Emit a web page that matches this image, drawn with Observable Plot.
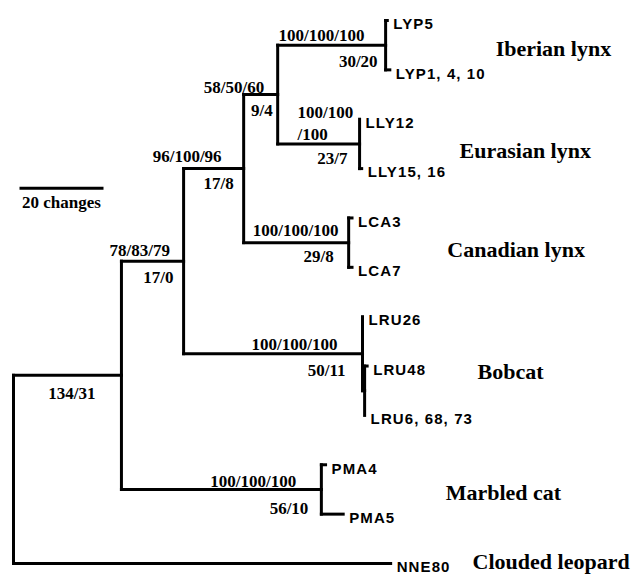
<!DOCTYPE html>
<html><head><meta charset="utf-8">
<script src="https://cdn.jsdelivr.net/npm/d3@7"></script>
<script src="https://cdn.jsdelivr.net/npm/@observablehq/plot@0.6"></script>
<style>
body{margin:0;background:#fff}
#chart svg{display:block;background:#fff}
.tips text{letter-spacing:1.1px}
</style></head><body><div id="chart"></div>
<script>
// ---- tree data (branch lengths in changes) ----
const nodeIds  = ["root","A","NNE80","B","M","C","Bob","D","Can","Ib","Eu","LYP5","LYP1","LLY12","LLY15","LCA3","LCA7","LRU26","BobSub","LRU48","LRU6","PMA4","PMA5"];
const parents  = [null,"root","root","A","A","B","B","C","C","D","D","Ib","Ib","Eu","Eu","Can","Can","Bob","Bob","BobSub","BobSub","M","M"];
const lengths  = [0,25.7,89.8,14.8,47.6,14.3,42.6,8.1,25.0,25.7,19.5,0.4,1.0,0,0.5,0.8,0.8,0,0.5,0.6,0,1.0,5.2];
// tip labels
const tipIds    = ["LYP5","LYP1","LLY12","LLY15","LCA3","LCA7","LRU26","LRU48","LRU6","PMA4","PMA5","NNE80"];
const tipLabels = ["LYP5","LYP1, 4, 10","LLY12","LLY15, 16","LCA3","LCA7","LRU26","LRU48","LRU6, 68, 73","PMA4","PMA5","NNE80"];
// support values (above branch) and steps (below branch)
const supportNodes = ["Ib","Eu","Can","Bob","M","D","C","B","A"];
const supportAbove = ["100/100/100","100/100\n/100","100/100/100","100/100/100","100/100/100","58/50/60","96/100/96","78/83/79",""];
const stepsBelow   = ["30/20","23/7","29/8","50/11","56/10","9/4","17/8","17/0","134/31"];
// clades
const cladeNodes  = ["Ib","Eu","Can","Bob","M","NNE80"];
const cladeNames  = ["Iberian lynx","Eurasian lynx","Canadian lynx","Bobcat","Marbled cat","Clouded leopard"];
// scale bar
const scaleBarLength = 20;
const scaleBarLabel = "20 changes";

// ---- layout (placement only) ----
const aboveDx = [-107,-62,-96,-111,-111,-74,-91,-74,0];
const aboveDy = [-11,-22,-14,-11,-10,-9,-14,-12.5,0];
const belowDx = [-8,-12,-15,-17,-13,-5,-10,-10,-26];
const belowDy = [16,15,14,17,19,16,15,16.5,18];
const cladeX  = [114.8,106.2,103.3,110.5,102.9,109.3];
const cladeDy = [4,7,7,18,3,-2];
const scaleBarPos = {x: 1.43, y: 3.4};

// build tree
const nodes = new Map(nodeIds.map((id,i)=>[id,{id,parent:parents[i],len:lengths[i],children:[]}]));
for (const n of nodes.values()) if (n.parent) nodes.get(n.parent).children.push(n);
let leafIndex = 0;
(function lay(n, x0){
  n.x = x0 + n.len;
  if (n.children.length===0){ n.y = leafIndex++; }
  else { n.children.forEach(c=>lay(c,n.x)); n.y = (n.children[0].y + n.children[n.children.length-1].y)/2; }
})(nodes.get("root"),0);

const segs = [];
for (const n of nodes.values()){
  if (n.parent){ const p = nodes.get(n.parent); if (n.len>0) segs.push({x1:p.x,y1:n.y,x2:n.x,y2:n.y}); }
  if (n.children.length){ segs.push({x1:n.x,y1:n.children[0].y,x2:n.x,y2:n.children[n.children.length-1].y}); }
}
const tips = tipIds.map((id,i)=>({x:nodes.get(id).x,y:nodes.get(id).y,label:tipLabels[i]}));
const above = supportNodes.map((id,i)=>({x:nodes.get(id).x,y:nodes.get(id).y,text:supportAbove[i],dx:aboveDx[i],dy:aboveDy[i]})).filter(d=>d.text);
const below = supportNodes.map((id,i)=>({x:nodes.get(id).x,y:nodes.get(id).y,text:stepsBelow[i],dx:belowDx[i],dy:belowDy[i]}));
const clades = cladeNodes.map((id,i)=>({x:cladeX[i],y:nodes.get(id).y,text:cladeNames[i],dy:cladeDy[i]}));

const serif = "'Liberation Serif','Times New Roman',serif";
const sans = "'Liberation Sans',Arial,sans-serif";
const marks = [
  Plot.link(segs,{x1:"x1",y1:"y1",x2:"x2",y2:"y2",stroke:"#000",strokeWidth:3,strokeLinecap:"square"}),
  Plot.link([{x1:scaleBarPos.x,x2:scaleBarPos.x+scaleBarLength,y:scaleBarPos.y}],{x1:"x1",x2:"x2",y1:"y",y2:"y",stroke:"#000",strokeWidth:3}),
  Plot.text([{x:scaleBarPos.x+scaleBarLength/2,y:scaleBarPos.y}],{x:"x",y:"y",text:()=>scaleBarLabel,dy:14,fontFamily:serif,fontWeight:"bold",fontSize:17,fill:"#000"}),
  Plot.text(tips,{x:"x",y:"y",text:"label",textAnchor:"start",dx:6,dy:4,fontFamily:sans,fontWeight:"bold",fontSize:15,fill:"#000",className:"tips"}),
  ...above.map(d=>Plot.text([d],{x:"x",y:"y",text:"text",textAnchor:"start",dx:d.dx,dy:d.dy,lineHeight:1.3,fontFamily:serif,fontWeight:"bold",fontSize:17,fill:"#000"})),
  ...below.map(d=>Plot.text([d],{x:"x",y:"y",text:"text",textAnchor:"end",dx:d.dx,dy:d.dy,fontFamily:serif,fontWeight:"bold",fontSize:17,fill:"#000"})),
  ...clades.map(d=>Plot.text([d],{x:"x",y:"y",text:"text",textAnchor:"start",dy:d.dy,fontFamily:serif,fontWeight:"bold",fontSize:22,fill:"#000"}))
];

const chart = Plot.plot({
  width:631, height:574, margin:0,
  x:{type:"linear",domain:[0,20],range:[13,97],axis:null},
  y:{type:"linear",domain:[0,11],range:[20,563],axis:null},
  style:{background:"#fff",overflow:"visible"},
  marks
});
document.getElementById("chart").appendChild(chart);
// ensure letter spacing on tip labels even if className unsupported
d3.select(chart).selectAll("g").filter(function(){return (this.getAttribute("font-family")||"").includes("Liberation Sans");}).selectAll("text").style("letter-spacing","1.1px");
</script></body></html>
